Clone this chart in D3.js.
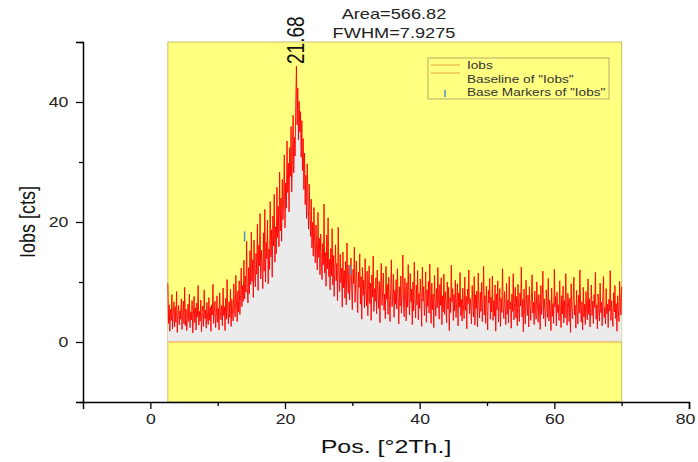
<!DOCTYPE html>
<html><head><meta charset="utf-8">
<script src="https://cdn.jsdelivr.net/npm/d3@7"></script>
<style>body{margin:0;background:#fff}svg{display:block;font-family:"Liberation Sans",Arial,sans-serif}</style>
</head><body><svg id="c" width="698" height="462"></svg>
<script>
// ---- data ----
const scanStart = 2.6, scanStep = 0.1;
const iobs = [
9.8,3.1,6.2,1.8,5.4,3.6,7.9,2.2,4.8,6.7,
2.5,5.9,3.3,8.4,1.6,4.7,6.1,2.9,5.2,3.8,
7.2,2.1,4.4,6.8,3.0,9.1,2.7,5.5,1.9,4.1,
6.3,3.4,8.0,2.4,5.0,3.7,6.9,1.5,4.6,7.6,
3.2,5.7,2.0,6.5,4.2,9.4,2.8,5.1,3.5,7.0,
1.7,4.9,6.0,2.6,8.7,3.9,5.3,2.3,6.6,4.0,
2.9,7.4,3.6,5.8,1.8,6.2,4.5,9.6,3.1,5.0,
6.8,2.4,4.3,7.7,3.3,5.6,2.0,8.2,4.8,3.7,
6.1,2.7,9.0,4.4,5.9,1.9,7.3,3.8,10.4,4.9,
3.0,6.7,4.1,8.8,2.6,7.1,5.2,3.5,9.7,5.6,
4.2,11.1,6.3,3.4,8.5,5.0,10.2,4.6,7.8,12.3,
5.9,9.4,6.8,13.6,7.2,11.0,8.3,16.8,9.1,6.5,
12.4,8.0,15.2,9.6,18.3,10.1,13.7,7.4,17.0,11.5,
9.2,14.8,11.3,19.6,8.6,16.1,12.7,21.4,10.5,15.3,
13.0,8.9,18.2,11.8,22.1,10.0,16.6,13.9,20.3,9.7,
15.5,12.1,23.4,14.2,18.7,10.8,21.0,16.0,24.6,13.3,
19.2,14.7,25.8,17.4,22.6,15.9,28.3,18.5,24.0,16.8,
27.1,20.4,23.7,31.2,19.0,26.5,22.3,33.5,24.9,29.8,
21.7,32.4,27.6,35.9,25.0,30.6,37.8,28.2,34.1,31.0,
39.6,46.0,36.2,42.3,33.7,40.1,35.0,38.4,30.8,36.9,
28.6,33.9,25.4,31.5,22.9,27.8,20.6,29.7,24.2,18.8,
26.3,21.1,17.6,23.8,15.7,20.0,14.3,22.4,16.9,13.2,
19.5,15.0,12.0,21.6,14.1,17.3,11.2,18.0,13.6,10.4,
16.4,12.9,23.0,11.5,14.9,9.3,17.8,12.2,20.7,10.9,
13.8,8.7,15.6,11.0,18.9,9.5,14.4,7.6,12.6,16.2,
10.2,13.1,6.9,19.1,11.7,8.4,14.6,9.9,12.3,5.8,
15.0,9.0,11.9,7.3,13.4,6.2,16.5,10.6,8.1,12.8,
7.0,11.4,14.0,8.8,5.4,12.1,9.7,15.8,6.6,10.0,
13.5,8.2,4.9,11.6,9.1,14.7,6.3,10.9,3.8,12.4,
7.8,10.3,5.7,13.9,8.5,6.0,11.8,4.4,9.4,12.7,
6.4,9.8,3.6,11.2,7.5,14.3,5.1,8.9,6.8,10.7,
4.7,12.0,7.9,5.6,10.1,3.2,9.3,13.1,6.1,8.4,
11.5,5.3,8.0,3.9,12.6,7.1,9.6,4.6,10.8,6.9,
3.4,9.0,13.7,5.9,7.7,11.3,4.1,8.6,6.3,10.4,
5.5,12.2,7.4,3.0,9.2,6.0,11.0,4.8,8.3,14.5,
6.6,4.2,10.6,7.8,3.5,9.9,5.8,12.9,7.0,4.5,
11.4,6.7,8.8,2.9,10.0,5.2,13.3,7.3,4.0,9.5,
6.2,11.9,3.7,8.1,5.6,10.5,7.6,2.6,12.5,6.8,
9.2,4.4,7.0,11.7,3.3,8.7,5.9,10.1,4.8,13.0,
6.5,3.1,9.8,5.4,8.0,2.4,11.1,6.9,4.3,8.9,
5.7,12.4,7.2,3.8,9.6,6.1,10.7,2.9,7.7,5.0,
11.3,4.6,8.4,6.3,3.2,10.0,5.5,9.1,1.9,7.4,
4.9,12.8,6.7,8.9,3.6,7.9,5.2,10.3,4.1,6.6,
9.7,2.7,8.2,5.8,11.6,4.4,7.1,3.5,9.0,6.0,
3.9,10.8,5.3,7.6,2.2,8.8,6.4,12.0,4.7,7.3,
5.9,3.0,9.4,6.8,4.2,10.9,2.8,7.9,5.6,8.5,
2.5,11.5,6.2,4.0,8.3,5.1,9.9,3.4,7.0,12.6,
4.5,7.7,3.1,9.3,5.7,2.0,8.6,6.5,10.6,3.8,
7.5,5.0,11.0,3.6,6.9,4.3,9.5,1.8,8.0,5.4,
10.2,3.3,6.6,8.9,2.6,7.3,4.9,12.2,5.8,3.9,
8.4,6.1,2.9,9.8,4.6,7.0,3.2,10.9,5.5,6.7,
2.3,8.0,5.1,11.4,3.7,6.4,9.1,4.0,7.6,2.7,
9.6,5.6,3.4,8.2,6.0,12.5,4.2,7.1,1.7,8.8,
5.0,3.0,10.3,6.3,4.4,7.8,2.5,9.2,5.9,3.6,
7.4,11.2,4.8,6.6,2.9,8.5,5.3,3.8,10.0,6.1,
3.3,7.9,5.7,2.1,9.4,4.6,6.8,11.8,3.9,7.2,
5.2,2.6,8.7,6.0,4.1,10.6,3.5,7.0,5.5,1.9,
9.0,4.3,6.4,3.1,12.1,5.8,7.6,2.7,8.3,4.9,
6.2,3.6,10.2,5.0,2.4,7.7,4.7,9.3,3.2,6.9,
4.0,11.4,5.6,2.8,8.1,6.5,3.4,7.3,1.6,9.7,
5.4,3.9,7.0,10.8,4.5,6.1,2.3,8.6,5.1,3.0,
7.8,4.8,12.0,5.9,3.3,6.7,2.0,9.1,4.2,6.3,
2.9,8.4,5.3,3.7,10.5,4.6,7.2,2.5,6.0,9.5,
4.4,6.8,3.1,7.9,5.7,11.6,3.8,6.2,2.2,8.0,
5.6,3.5,9.8,4.9,6.6,2.7,7.5,10.9,4.1,5.8,
3.0,8.9,4.7,6.3,2.4,7.1,5.2,11.9,3.6,6.9,
4.3,2.6,8.2,5.0,9.4,3.9,6.4,1.8,7.7,5.5,
3.4,10.1,6.0,4.5,9.2
];
const baselineLevel = 0;
const markerPos = [14.0, 29.7];
const markerVal = [17.6, 12.0];
const peakPos = 21.68, peakVal = 46.0, peakLabel = "21.68";
const areaText = "Area=566.82", fwhmText = "FWHM=7.9275";
const xTicks = [0, 20, 40, 60, 80], xMinor = [10, 30, 50, 70];
const yTicks = [0, 20, 40], yMinor = [-10, 10, 30, 50];
const legendLabels = ["Iobs", "Baseline of \"Iobs\"", "Base Markers of \"Iobs\""];

const points = iobs.map((v, i) => ({x: +(scanStart + i * scanStep).toFixed(2), y: v}));
const xFirst = points[0].x, xLast = points[points.length - 1].x;
const SX = 1.3; // the reference text is stretched horizontally

// ---- scales ----
const svg = d3.select("#c");
const x = d3.scaleLinear().domain([-10, 80]).range([83, 689]);
const y = d3.scaleLinear().domain([-10, 50]).range([402, 42]);

// plot background (data range)
svg.append("rect").attr("x", x(xFirst)).attr("y", y(50)).attr("width", x(xLast) - x(xFirst))
  .attr("height", y(-10) - y(50)).attr("fill", "#ffff80").attr("stroke", "#c9bf6a").attr("stroke-width", 1);

// area under curve
svg.append("path").datum(points)
  .attr("d", d3.area().x(d => x(d.x)).y0(y(baselineLevel)).y1(d => y(d.y)))
  .attr("fill", "#ebebeb");

// baseline
svg.append("line").attr("x1", x(xFirst)).attr("x2", x(xLast)).attr("y1", y(baselineLevel)).attr("y2", y(baselineLevel))
  .attr("stroke", "#f0a040").attr("stroke-width", 1);

// data line
svg.append("path").datum(points)
  .attr("d", d3.line().x(d => x(d.x)).y(d => y(d.y)))
  .attr("fill", "none").attr("stroke", "#ff0000").attr("stroke-width", 0.9);

// base markers
svg.selectAll(".bm").data(markerPos).enter().append("line")
  .attr("x1", d => x(d)).attr("x2", d => x(d))
  .attr("y1", (d, i) => y(markerVal[i]) - 5).attr("y2", (d, i) => y(markerVal[i]) + 5)
  .attr("stroke", "#4a90c8").attr("stroke-width", 1.5);

// axes
const xg = svg.append("g").attr("transform", `translate(0,${y(-10)})`)
  .call(d3.axisBottom(x).tickValues(xTicks).tickSize(7).tickPadding(5).tickFormat(d3.format("d")));
svg.append("g").attr("transform", `translate(0,${y(-10)})`)
  .call(d3.axisBottom(x).tickValues(xMinor).tickSize(4).tickFormat("")).select(".domain").remove();
svg.append("g").attr("transform", `translate(${x(-10)},0)`)
  .call(d3.axisLeft(y).tickValues(yTicks).tickSize(7).tickPadding(5).tickFormat(d3.format("d")));
svg.append("g").attr("transform", `translate(${x(-10)},0)`)
  .call(d3.axisLeft(y).tickValues(yMinor).tickSize(4).tickFormat("")).select(".domain").remove();
svg.selectAll(".domain").attr("stroke", "#000").attr("stroke-width", 1.5);
svg.selectAll(".tick line").attr("stroke", "#000").attr("stroke-width", 1.3);
svg.selectAll(".tick text").attr("font-size", 14.5).attr("fill", "#222")
  .attr("font-family", "Liberation Sans, Arial, sans-serif").attr("transform", `scale(1.22,1)`);
// keep the last x label inside the picture
xg.selectAll(".tick text").filter(d => d === 80).attr("transform", "translate(-4,0) scale(1.22,1)");

// titles
svg.append("text").attr("transform", `translate(386,453) scale(1.35,1)`).attr("text-anchor", "middle")
  .attr("font-size", 18.5).attr("fill", "#111").text("Pos. [°2Th.]");
svg.append("text").attr("transform", "translate(35,222) rotate(-90) scale(1,1.25)").attr("text-anchor", "middle")
  .attr("font-size", 18).attr("fill", "#111").text("Iobs [cts]");

// annotations
svg.append("text").attr("transform", `translate(${x(peakPos) + 8},${y(peakVal) - 2}) rotate(-90) scale(1,1.22)`)
  .attr("font-size", 19).attr("fill", "#111").text(peakLabel);
svg.append("text").attr("transform", `translate(394,19) scale(${SX},1)`).attr("text-anchor", "middle")
  .attr("font-size", 14).attr("fill", "#222").text(areaText);
svg.append("text").attr("transform", `translate(394,38) scale(${SX},1)`).attr("text-anchor", "middle")
  .attr("font-size", 14).attr("fill", "#222").text(fwhmText);

// legend
const lg = svg.append("g");
lg.append("rect").attr("x", 428).attr("y", 58).attr("width", 181).attr("height", 41)
  .attr("fill", "none").attr("stroke", "#b8ae68").attr("stroke-width", 1);
const rowY = [65, 79, 92];
const lineY = [65, 73];
legendLabels.forEach((t, i) => {
  if (i < 2) lg.append("line").attr("x1", 431).attr("x2", 460).attr("y1", lineY[i]).attr("y2", lineY[i])
    .attr("stroke", "#f0a040").attr("stroke-width", 1);
  else lg.append("line").attr("x1", 445).attr("x2", 445).attr("y1", rowY[i] - 2).attr("y2", rowY[i] + 5)
    .attr("stroke", "#4a90c8").attr("stroke-width", 1.5);
  lg.append("text").attr("transform", `translate(467,${rowY[i] + 4}) scale(${SX},1)`)
    .attr("font-size", 10.5).attr("fill", "#333").text(t);
});
</script></body></html>
